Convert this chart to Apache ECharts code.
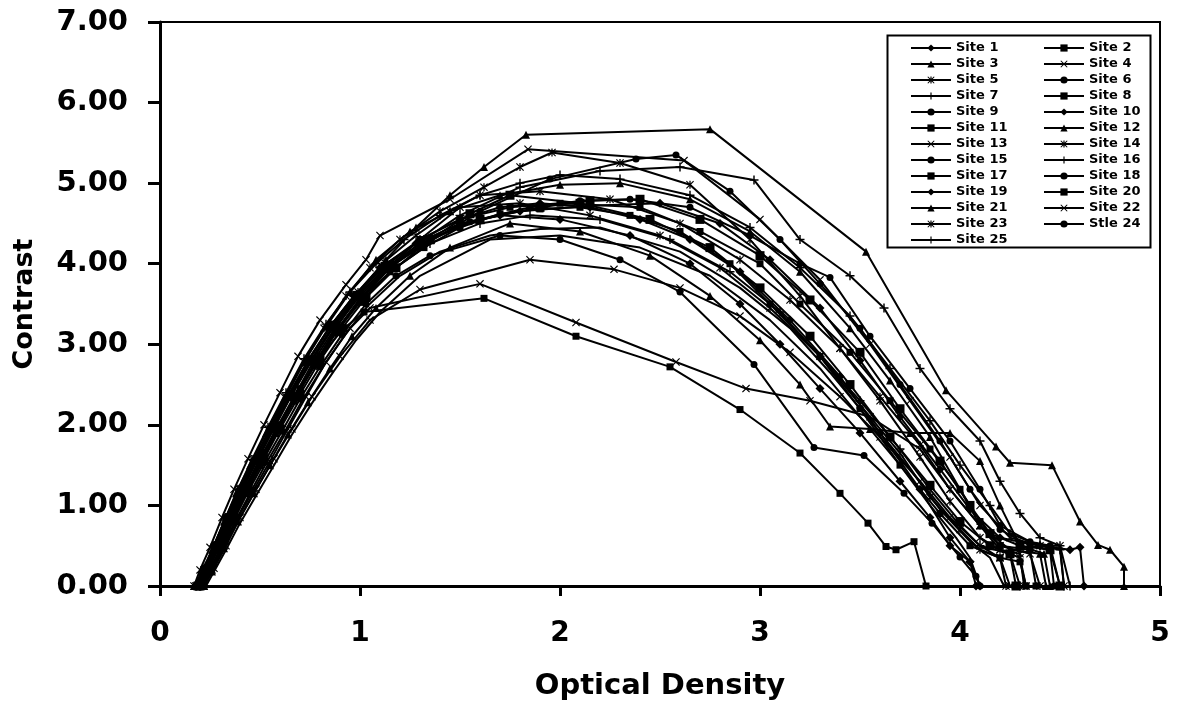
<!DOCTYPE html>
<html>
<head>
<meta charset="utf-8">
<script src="https://cdn.jsdelivr.net/npm/echarts@6/dist/echarts.min.js"></script>
<style>
  html, body { margin: 0; padding: 0; background: #fff; }
  #contrastChart { width: 1177px; height: 712px; }
</style>
</head>
<body>
<div id="contrastChart"></div>
<script>
// contrast vs optical density, one curve per site  [OD, contrast]
var site1 = [[0.18,0],[0.22,0.22],[0.27,0.5],[0.33,0.85],[0.4,1.2],[0.47,1.55],[0.55,1.95],[0.64,2.35],[0.74,2.8],[0.85,3.22],[0.97,3.6],[1.12,3.95],[1.3,4.3],[1.5,4.55],[1.7,4.7],[1.9,4.75],[2.15,4.7],[2.4,4.55],[2.65,4.3],[2.9,3.9],[3.15,3.3],[3.4,2.6],[3.6,1.9],[3.8,1.2],[3.95,0.6],[4.05,0.3],[4.1,0]];
var site2 = [[0.19,0],[0.23,0.2],[0.29,0.5],[0.35,0.85],[0.42,1.18],[0.5,1.55],[0.58,1.92],[0.67,2.32],[0.77,2.74],[0.88,3.15],[1.0,3.52],[1.15,3.9],[1.32,4.2],[1.5,4.45],[1.7,4.62],[1.9,4.68],[2.1,4.7],[2.35,4.6],[2.6,4.4],[2.85,4.0],[3.05,3.5],[3.3,2.85],[3.5,2.2],[3.7,1.5],[3.9,0.9],[4.05,0.5],[4.2,0.35],[4.3,0.3],[4.33,0]];
var site3 = [[0.17,0],[0.21,0.18],[0.26,0.45],[0.32,0.8],[0.38,1.15],[0.45,1.5],[0.53,1.9],[0.62,2.32],[0.72,2.78],[0.83,3.22],[0.95,3.65],[1.08,4.05],[1.25,4.4],[1.45,4.65],[1.7,4.85],[2.0,4.98],[2.3,5.0],[2.65,4.8],[2.95,4.4],[3.2,3.9],[3.45,3.2],[3.65,2.55],[3.85,1.85],[4.0,1.2],[4.1,0.75],[4.25,0.45],[4.4,0.4],[4.43,0]];
var site4 = [[0.17,0],[0.2,0.2],[0.25,0.48],[0.31,0.85],[0.37,1.2],[0.44,1.58],[0.52,2.0],[0.6,2.4],[0.69,2.85],[0.8,3.3],[0.93,3.74],[1.03,4.05],[1.1,4.35],[1.45,4.8],[1.84,5.42],[2.62,5.28],[3.0,4.55],[3.3,3.8],[3.55,3.0],[3.75,2.3],[3.95,1.6],[4.1,1.0],[4.25,0.6],[4.4,0.5],[4.5,0.5],[4.52,0]];
var site5 = [[0.18,0],[0.22,0.2],[0.27,0.48],[0.33,0.82],[0.4,1.2],[0.47,1.55],[0.55,1.95],[0.63,2.35],[0.72,2.78],[0.82,3.2],[0.93,3.6],[1.05,3.95],[1.2,4.3],[1.4,4.65],[1.62,4.95],[1.8,5.2],[1.96,5.38],[2.3,5.25],[2.65,4.98],[2.95,4.3],[3.2,3.6],[3.4,2.95],[3.6,2.3],[3.8,1.6],[3.95,1.05],[4.1,0.6],[4.2,0.45],[4.3,0.4],[4.32,0]];
var site6 = [[0.19,0],[0.23,0.22],[0.28,0.5],[0.34,0.85],[0.41,1.2],[0.48,1.55],[0.56,1.95],[0.65,2.35],[0.75,2.78],[0.86,3.2],[0.98,3.6],[1.12,3.92],[1.3,4.2],[1.6,4.65],[1.95,5.05],[2.38,5.3],[2.58,5.35],[2.85,4.9],[3.1,4.3],[3.3,3.75],[3.5,3.2],[3.7,2.5],[3.9,1.8],[4.05,1.2],[4.2,0.7],[4.35,0.5],[4.45,0.45],[4.47,0]];
var site7 = [[0.2,0],[0.24,0.2],[0.3,0.52],[0.36,0.85],[0.43,1.2],[0.51,1.58],[0.59,1.95],[0.68,2.35],[0.78,2.78],[0.89,3.2],[1.01,3.6],[1.15,3.95],[1.32,4.3],[1.5,4.6],[1.8,4.95],[2.2,5.15],[2.6,5.2],[2.97,5.04],[3.2,4.3],[3.45,3.85],[3.62,3.45],[3.8,2.7],[3.95,2.2],[4.1,1.8],[4.2,1.3],[4.3,0.9],[4.4,0.6],[4.5,0.5],[4.55,0]];
var site8 = [[0.2,0],[0.25,0.25],[0.3,0.5],[0.37,0.85],[0.44,1.2],[0.52,1.58],[0.6,1.95],[0.7,2.38],[0.8,2.8],[0.91,3.2],[1.03,3.58],[1.18,3.95],[1.35,4.3],[1.55,4.62],[1.75,4.85],[2.1,4.75],[2.45,4.55],[2.75,4.2],[3.0,3.7],[3.25,3.1],[3.45,2.5],[3.65,1.85],[3.85,1.25],[4.0,0.8],[4.15,0.5],[4.25,0.4],[4.28,0]];
var site9 = [[0.21,0],[0.25,0.18],[0.31,0.48],[0.38,0.82],[0.45,1.15],[0.53,1.52],[0.62,1.9],[0.71,2.3],[0.81,2.7],[0.92,3.1],[1.04,3.48],[1.2,3.85],[1.4,4.15],[1.65,4.35],[1.9,4.43],[2.2,4.45],[2.6,4.15],[2.9,3.7],[3.15,3.2],[3.35,2.65],[3.55,2.05],[3.75,1.45],[3.9,0.95],[4.05,0.55],[4.15,0.35],[4.22,0]];
var site10 = [[0.2,0],[0.24,0.2],[0.29,0.48],[0.35,0.82],[0.42,1.18],[0.5,1.55],[0.58,1.92],[0.67,2.32],[0.77,2.75],[0.88,3.15],[1.0,3.55],[1.15,3.95],[1.32,4.25],[1.5,4.48],[1.7,4.6],[2.0,4.55],[2.35,4.35],[2.65,4.0],[2.9,3.5],[3.1,3.0],[3.3,2.45],[3.5,1.9],[3.7,1.3],[3.85,0.85],[3.95,0.5],[4.05,0.3],[4.08,0]];
var site11 = [[0.18,0],[0.22,0.2],[0.28,0.5],[0.34,0.85],[0.41,1.2],[0.48,1.55],[0.56,1.95],[0.65,2.38],[0.75,2.82],[0.86,3.25],[0.98,3.62],[1.12,3.98],[1.3,4.3],[1.5,4.55],[1.75,4.7],[2.0,4.75],[2.4,4.7],[2.7,4.4],[3.0,4.0],[3.2,3.5],[3.45,2.9],[3.65,2.3],[3.85,1.7],[4.0,1.2],[4.1,0.8],[4.2,0.5],[4.35,0.45],[4.38,0]];
var site12 = [[0.22,0],[0.26,0.18],[0.32,0.47],[0.39,0.8],[0.47,1.15],[0.55,1.5],[0.64,1.88],[0.74,2.28],[0.85,2.7],[0.96,3.1],[1.08,3.45],[1.25,3.85],[1.45,4.2],[1.75,4.5],[2.1,4.4],[2.45,4.1],[2.75,3.6],[3.0,3.05],[3.2,2.5],[3.35,1.98],[3.55,1.95],[3.75,1.9],[3.95,1.9],[4.1,1.55],[4.2,1.0],[4.3,0.5],[4.42,0.4],[4.45,0]];
var site13 = [[0.22,0],[0.27,0.22],[0.33,0.5],[0.4,0.85],[0.48,1.2],[0.57,1.58],[0.66,1.95],[0.76,2.35],[0.9,2.85],[1.05,3.3],[1.3,3.68],[1.85,4.05],[2.27,3.93],[2.6,3.7],[2.9,3.35],[3.15,2.9],[3.4,2.35],[3.6,1.85],[3.8,1.3],[3.95,0.85],[4.1,0.5],[4.2,0.35],[4.25,0]];
var site14 = [[0.19,0],[0.23,0.2],[0.28,0.48],[0.34,0.82],[0.41,1.2],[0.49,1.58],[0.57,1.96],[0.66,2.38],[0.76,2.82],[0.87,3.25],[0.99,3.65],[1.12,4.02],[1.28,4.35],[1.45,4.65],[1.6,4.85],[1.9,4.9],[2.25,4.8],[2.6,4.5],[2.9,4.05],[3.15,3.55],[3.4,2.95],[3.6,2.35],[3.8,1.75],[3.95,1.2],[4.1,0.75],[4.2,0.5],[4.35,0.4],[4.4,0]];
var site15 = [[0.21,0],[0.25,0.2],[0.31,0.5],[0.37,0.82],[0.44,1.17],[0.52,1.53],[0.61,1.92],[0.7,2.32],[0.8,2.72],[0.91,3.12],[1.03,3.5],[1.18,3.85],[1.35,4.1],[1.7,4.35],[2.0,4.3],[2.3,4.05],[2.6,3.65],[2.97,2.75],[3.27,1.72],[3.52,1.62],[3.72,1.15],[3.86,0.78],[4.0,0.36],[4.08,0.12],[4.1,0]];
var site16 = [[0.2,0],[0.24,0.22],[0.3,0.5],[0.36,0.85],[0.43,1.2],[0.51,1.58],[0.59,1.95],[0.68,2.35],[0.78,2.78],[0.89,3.18],[1.01,3.58],[1.16,3.92],[1.35,4.25],[1.6,4.5],[1.85,4.6],[2.2,4.55],[2.55,4.3],[2.85,3.9],[3.1,3.4],[3.3,2.85],[3.5,2.3],[3.7,1.7],[3.85,1.2],[4.0,0.75],[4.1,0.5],[4.25,0.4],[4.3,0]];
var site17 = [[0.19,0],[0.23,0.2],[0.29,0.5],[0.35,0.85],[0.42,1.2],[0.5,1.58],[0.58,1.95],[0.67,2.35],[0.77,2.8],[0.88,3.22],[1.0,3.6],[1.15,3.98],[1.35,4.3],[1.6,4.55],[1.9,4.7],[2.15,4.78],[2.4,4.8],[2.7,4.55],[3.0,4.1],[3.25,3.55],[3.5,2.9],[3.7,2.2],[3.9,1.55],[4.05,1.0],[4.15,0.65],[4.3,0.5],[4.45,0.45],[4.5,0]];
var site18 = [[0.23,0],[0.27,0.18],[0.33,0.45],[0.4,0.78],[0.48,1.12],[0.57,1.5],[0.66,1.88],[0.76,2.27],[0.87,2.67],[0.98,3.05],[1.1,3.4],[1.3,3.85],[1.65,4.3],[2.0,4.35],[2.4,4.2],[2.75,3.85],[3.05,3.3],[3.3,2.7],[3.5,2.1],[3.7,1.5],[3.85,1.0],[3.98,0.6],[4.05,0.35],[4.1,0]];
var site19 = [[0.18,0],[0.22,0.2],[0.27,0.48],[0.33,0.82],[0.4,1.2],[0.47,1.56],[0.55,1.95],[0.64,2.36],[0.74,2.8],[0.85,3.22],[0.97,3.6],[1.1,3.95],[1.28,4.25],[1.5,4.5],[1.8,4.65],[2.15,4.72],[2.5,4.75],[2.8,4.5],[3.05,4.05],[3.3,3.45],[3.5,2.8],[3.7,2.1],[3.9,1.45],[4.05,0.95],[4.2,0.6],[4.4,0.5],[4.55,0.45],[4.6,0.48],[4.62,0]];
var site20 = [[0.2,0],[0.24,0.25],[0.3,0.55],[0.37,0.9],[0.44,1.25],[0.52,1.65],[0.6,2.0],[0.7,2.45],[0.8,2.85],[0.92,3.2],[1.02,3.4],[1.62,3.57],[2.08,3.1],[2.55,2.72],[2.9,2.19],[3.2,1.65],[3.4,1.15],[3.54,0.78],[3.63,0.49],[3.68,0.45],[3.77,0.55],[3.83,0]];
var site21 = [[0.21,0],[0.25,0.2],[0.3,0.45],[0.36,0.8],[0.43,1.15],[0.5,1.5],[0.58,1.9],[0.67,2.3],[0.77,2.75],[0.88,3.2],[1.0,3.65],[1.13,4.05],[1.28,4.45],[1.45,4.85],[1.62,5.2],[1.83,5.6],[2.75,5.67],[3.53,4.15],[3.93,2.43],[4.18,1.73],[4.25,1.53],[4.46,1.5],[4.6,0.8],[4.69,0.51],[4.75,0.45],[4.82,0.24],[4.82,0]];
var site22 = [[0.22,0],[0.26,0.2],[0.32,0.5],[0.39,0.85],[0.47,1.2],[0.55,1.55],[0.64,1.95],[0.73,2.35],[0.83,2.78],[0.95,3.2],[1.05,3.45],[1.6,3.75],[2.08,3.27],[2.58,2.78],[2.93,2.45],[3.25,2.3],[3.55,2.1],[3.8,1.7],[3.95,1.2],[4.1,0.75],[4.2,0.45],[4.3,0.35],[4.33,0]];
var site23 = [[0.2,0],[0.24,0.2],[0.29,0.47],[0.35,0.8],[0.42,1.15],[0.5,1.52],[0.58,1.9],[0.67,2.3],[0.77,2.72],[0.88,3.15],[1.0,3.55],[1.14,3.95],[1.3,4.3],[1.5,4.7],[1.8,4.75],[2.15,4.6],[2.5,4.35],[2.8,3.95],[3.05,3.45],[3.3,2.85],[3.5,2.25],[3.7,1.65],[3.85,1.1],[4.0,0.7],[4.1,0.45],[4.2,0.35],[4.23,0]];
var site24 = [[0.19,0],[0.23,0.2],[0.28,0.5],[0.34,0.85],[0.41,1.2],[0.49,1.58],[0.57,1.96],[0.66,2.38],[0.76,2.8],[0.87,3.22],[0.99,3.6],[1.13,3.95],[1.3,4.25],[1.55,4.52],[1.85,4.7],[2.1,4.78],[2.35,4.8],[2.65,4.7],[2.95,4.35],[3.2,4.0],[3.35,3.83],[3.55,3.1],[3.75,2.45],[3.95,1.8],[4.1,1.2],[4.2,0.75],[4.35,0.55],[4.45,0.5],[4.5,0]];
var site25 = [[0.18,0],[0.22,0.2],[0.27,0.5],[0.33,0.85],[0.39,1.2],[0.46,1.57],[0.54,1.97],[0.63,2.4],[0.72,2.82],[0.83,3.25],[0.95,3.65],[1.08,4.0],[1.22,4.3],[1.4,4.6],[1.6,4.85],[1.8,5.0],[2.0,5.1],[2.3,5.05],[2.65,4.85],[2.95,4.45],[3.2,3.95],[3.45,3.35],[3.65,2.7],[3.85,2.05],[4.0,1.5],[4.15,1.0],[4.25,0.65],[4.4,0.5],[4.5,0.45],[4.52,0]];

var siteNames = ['Site 1','Site 2','Site 3','Site 4','Site 5','Site 6','Site 7','Site 8','Site 9','Site 10',
    'Site 11','Site 12','Site 13','Site 14','Site 15','Site 16','Site 17','Site 18','Site 19','Site 20',
    'Site 21','Site 22','Site 23','Stle 24','Site 25'];
var siteData = [site1,site2,site3,site4,site5,site6,site7,site8,site9,site10,site11,site12,site13,
    site14,site15,site16,site17,site18,site19,site20,site21,site22,site23,site24,site25];

var yTicks = ['0.00','1.00','2.00','3.00','4.00','5.00','6.00','7.00'];
var xTicks = ['0','1','2','3','4','5'];

(function () {
    var chart = echarts.init(document.getElementById('contrastChart'));
    var fontName = 'DejaVu Sans';

    // excel-ish marker cycle
    var markX = 'path://M1,0L5,4L9,0L10,1L6,5L10,9L9,10L5,6L1,10L0,9L4,5L0,1Z';
    var markStar = 'path://M1,0L5,4L9,0L10,1L6,5L10,9L9,10L5,6L1,10L0,9L4,5L0,1Z M4.2,0L5.8,0L5.8,10L4.2,10Z';
    var markPlus = 'path://M4.2,0L5.8,0L5.8,4.2L10,4.2L10,5.8L5.8,5.8L5.8,10L4.2,10L4.2,5.8L0,5.8L0,4.2L4.2,4.2Z';
    var markDash = 'path://M0,4L10,4L10,6L0,6Z';
    var markers = ['diamond', 'rect', 'triangle', markX, markStar, 'circle', markPlus, markDash, 'none'];
    var sizes = [9, 7, 8, 8, 8, 7, 9, 9, 1];

    var series = [];
    for (var i = 0; i < siteData.length; i++) {
        series.push({
            name: siteNames[i],
            type: 'line',
            data: siteData[i],
            symbol: markers[i % 9],
            symbolSize: sizes[i % 9],
            showSymbol: true,
            lineStyle: {color: '#000', width: 2},
            itemStyle: {color: '#000', borderWidth: 0},
            emphasis: {disabled: true},
            z: 3
        });
    }

    var leftCol = [], rightCol = [];
    for (var k = 0; k < siteNames.length; k++) {
        if (k % 2 == 0) leftCol.push(siteNames[k]);
        else rightCol.push(siteNames[k]);
    }

    var legendBase = {
        orient: 'vertical',
        top: 35,
        itemWidth: 40,
        itemHeight: 9,
        itemGap: 0,
        selectedMode: false,
        textStyle: {fontFamily: fontName, fontWeight: 'bold', fontSize: 13, color: '#000', lineHeight: 16}
    };

    var option = {
        animation: false,
        backgroundColor: '#fff',
        color: ['#000'],
        grid: {
            left: 160, right: 17, top: 22, bottom: 126,
            show: true, borderColor: '#000', borderWidth: 2
        },
        legend: [
            Object.assign({}, legendBase, {left: 905, data: leftCol}),
            Object.assign({}, legendBase, {left: 1038, data: rightCol})
        ],
        graphic: [{
            type: 'rect',
            left: 885, top: 33,
            shape: {width: 263, height: 212},
            style: {fill: 'none', stroke: '#000', lineWidth: 2},
            z: 10
        }],
        xAxis: {
            type: 'value',
            min: 0, max: 5, interval: 1,
            name: 'Optical Density',
            nameLocation: 'middle',
            nameGap: 86,
            nameTextStyle: {fontFamily: fontName, fontWeight: 'bold', fontSize: 29, color: '#000'},
            axisLine: {lineStyle: {color: '#000', width: 3}},
            axisTick: {length: 10, lineStyle: {color: '#000', width: 3}},
            splitLine: {show: false},
            axisLabel: {
                margin: 34,
                fontFamily: fontName, fontWeight: 'bold', fontSize: 28, color: '#000',
                formatter: function (v) { return xTicks[Math.round(v)]; }
            }
        },
        yAxis: {
            type: 'value',
            min: 0, max: 7, interval: 1,
            name: 'Contrast',
            nameLocation: 'middle',
            nameGap: 122,
            nameTextStyle: {fontFamily: fontName, fontWeight: 'bold', fontSize: 27, color: '#000'},
            axisLine: {show: true, lineStyle: {color: '#000', width: 3}},
            axisTick: {show: true, length: 12, lineStyle: {color: '#000', width: 3}},
            splitLine: {show: false},
            axisLabel: {
                margin: 32,
                fontFamily: fontName, fontWeight: 'bold', fontSize: 29, color: '#000',
                formatter: function (v) { return yTicks[Math.round(v)]; }
            }
        },
        series: series
    };

    chart.setOption(option);
    window.addEventListener('resize', function () {
        chart.resize();
    });
})();
</script>
</body>
</html>
